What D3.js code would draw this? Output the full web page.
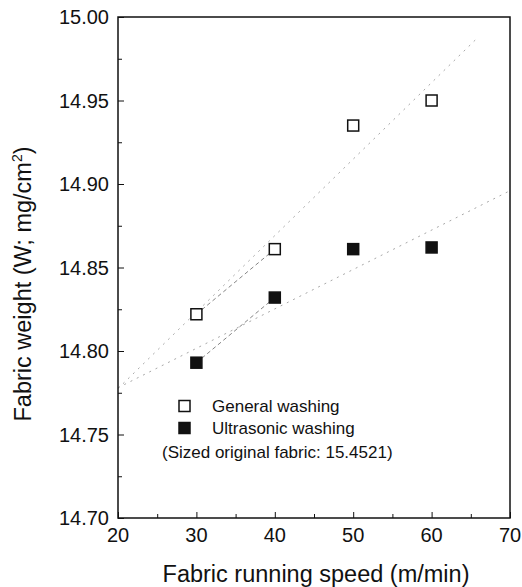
<!DOCTYPE html>
<html><head><meta charset="utf-8">
<script src="https://cdn.jsdelivr.net/npm/d3@7/dist/d3.min.js"></script>
<style>body{margin:0;background:#fff}svg{display:block}text{font-family:"Liberation Sans",Arial,sans-serif;fill:#111}</style>
</head><body>
<svg id="c" width="522" height="587"></svg>
<script>
const speeds = [30, 40, 50, 60];
const generalWashing = [14.822, 14.861, 14.935, 14.950];
const ultrasonicWashing = [14.793, 14.832, 14.861, 14.862];
const xTicks = [20, 30, 40, 50, 60, 70];
const yTicks = [14.70, 14.75, 14.80, 14.85, 14.90, 14.95, 15.00];
const seriesNames = ["General washing", "Ultrasonic washing"];
const noteText = "(Sized original fabric: 15.4521)";
const fitRanges = [[20, 66], [20, 70]];

const svg = d3.select("#c");
const L = 118, R = 510, T = 17, B = 518;
const x = d3.scaleLinear().domain([20, 70]).range([L, R]);
const y = d3.scaleLinear().domain([14.70, 15.00]).range([B, T]);

function fit(xs, ys) {
  const mx = d3.mean(xs), my = d3.mean(ys);
  let sxy = 0, sxx = 0;
  xs.forEach((v, i) => { sxy += (v - mx) * (ys[i] - my); sxx += (v - mx) * (v - mx); });
  const b = sxy / sxx;
  return t => my + b * (t - mx);
}

const series = [generalWashing, ultrasonicWashing];
const line = d3.line().x(d => x(d[0])).y(d => y(d[1]));

series.forEach((ys, i) => {
  const f = fit(speeds, ys);
  const r = fitRanges[i];
  svg.append("path").attr("d", line([[r[0], f(r[0])], [r[1], f(r[1])]]))
    .attr("fill", "none").attr("stroke", "#a8a8a8").attr("stroke-width", 1)
    .attr("stroke-dasharray", "2,5");
  svg.append("path").attr("d", line([[speeds[0], ys[0]], [speeds[1], ys[1]]]))
    .attr("fill", "none").attr("stroke", "#777").attr("stroke-width", 0.9)
    .attr("stroke-dasharray", "4,3");
});

const xAxis = d3.axisBottom(x).tickValues(d3.range(20, 70.1, 5)).tickSizeInner(-6).tickSizeOuter(0).tickFormat("");
const gx = svg.append("g").attr("transform", `translate(0,${B})`).call(xAxis);
gx.selectAll(".tick line").attr("y2", d => (d % 10 === 0 ? -6 : -4)).attr("stroke", "#111");
gx.select(".domain").remove();
const yAxis = d3.axisLeft(y).tickValues(d3.range(0, 13).map(k => 14.70 + k * 0.025)).tickSizeInner(-6).tickSizeOuter(0).tickFormat("");
const gy = svg.append("g").attr("transform", `translate(${L},0)`).call(yAxis);
gy.selectAll(".tick line").attr("x2", (d, i) => (i % 2 === 0 ? 6 : 4)).attr("stroke", "#111");
gy.select(".domain").remove();

svg.append("rect").attr("x", L).attr("y", T).attr("width", R - L).attr("height", B - T)
  .attr("fill", "none").attr("stroke", "#111").attr("stroke-width", 1.5);

svg.selectAll(".xl").data(xTicks).enter().append("text")
  .attr("x", d => x(d)).attr("y", 542).attr("text-anchor", "middle")
  .attr("font-size", 20).text(d => d);
svg.selectAll(".yl").data(yTicks).enter().append("text")
  .attr("x", 109).attr("y", d => y(d)).attr("dy", "0.36em").attr("text-anchor", "end")
  .attr("font-size", 20).text(d => d3.format(".2f")(d));

svg.append("text").attr("x", (L + R) / 2 + 2).attr("y", 582).attr("text-anchor", "middle")
  .attr("font-size", 23.5).text("Fabric running speed (m/min)");
const yt = svg.append("text").attr("transform", "translate(31,284) rotate(-90)")
  .attr("text-anchor", "middle").attr("font-size", 23.5);
yt.append("tspan").text("Fabric weight (W; mg/cm");
yt.append("tspan").attr("font-size", 14).attr("dy", -9).text("2");
yt.append("tspan").attr("dy", 9).text(")");

const sz = 11;
series.forEach((ys, i) => {
  svg.selectAll(".m" + i).data(speeds.map((s, k) => [s, ys[k]])).enter().append("rect")
    .attr("x", d => x(d[0]) - sz / 2).attr("y", d => y(d[1]) - sz / 2)
    .attr("width", sz).attr("height", sz)
    .attr("fill", i === 0 ? "#fff" : "#111").attr("stroke", "#111").attr("stroke-width", 1.5);
});

const lg = [[406, 0], [428, 1]];
lg.forEach(([cy, i]) => {
  svg.append("rect").attr("x", 179).attr("y", cy - 5.5).attr("width", 11).attr("height", 11)
    .attr("fill", i === 0 ? "#fff" : "#111").attr("stroke", "#111").attr("stroke-width", 1.5);
  svg.append("text").attr("x", 212).attr("y", cy + 6).attr("font-size", 17).text(seriesNames[i]);
});
svg.append("text").attr("x", 162).attr("y", 458).attr("font-size", 17).text(noteText);
</script>
</body></html>
